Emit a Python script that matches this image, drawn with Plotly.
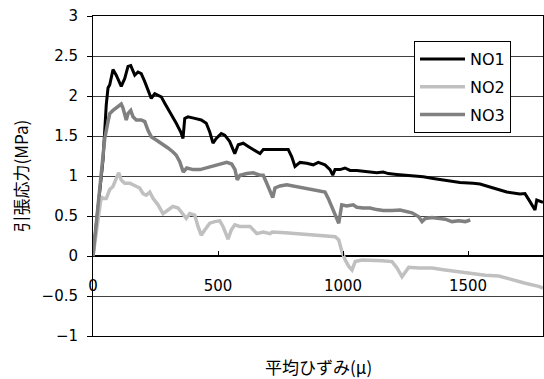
import plotly.graph_objects as go

# NO1 (black)
no1_x = [0, 20, 40, 53, 60, 67, 80, 93, 113, 127, 140, 151, 160, 167, 180, 193, 207, 220, 233, 247,
         260, 273, 287, 307, 320, 333, 351, 360, 367, 380, 407, 433, 453, 467, 480, 493, 513, 527,
         547, 567, 581, 601, 621, 641, 668, 681, 708, 733, 761, 781, 795, 808, 828, 855, 881, 901,
         928, 948, 959, 968, 988, 1008, 1028, 1055, 1081, 1108, 1135, 1161, 1181, 1215, 1255, 1281,
         1321, 1361, 1415, 1468, 1521, 1548, 1601, 1655, 1708, 1728, 1748, 1768, 1775, 1788, 1800]
no1_y = [0, 0.6, 1.2, 1.89, 2.1, 2.14, 2.33, 2.26, 2.12, 2.22, 2.37, 2.38, 2.30, 2.26, 2.30, 2.28, 2.18, 2.07, 1.97, 2.03,
         2.01, 1.99, 1.91, 1.80, 1.74, 1.66, 1.55, 1.47, 1.72, 1.74, 1.72, 1.70, 1.66, 1.55, 1.41, 1.47, 1.53, 1.51,
         1.43, 1.28, 1.39, 1.41, 1.37, 1.33, 1.28, 1.33, 1.33, 1.33, 1.33, 1.33, 1.24, 1.12, 1.17, 1.16, 1.14, 1.17,
         1.14, 1.08, 1.01, 1.08, 1.08, 1.10, 1.07, 1.07, 1.06, 1.05, 1.04, 1.05, 1.03, 1.02, 1.01, 1.00,
         0.99, 0.97, 0.94, 0.92, 0.91, 0.90, 0.85, 0.80, 0.775, 0.78, 0.68, 0.575, 0.70, 0.68, 0.67]

# NO2 (light grey)
no2_x = [0, 20, 33, 40, 53, 67, 80, 93, 103, 113, 127, 147, 167, 187, 200, 213, 227, 240, 260, 280,
         300, 320, 340, 360, 373, 387, 407, 420, 433, 447, 467, 487, 507, 520, 533, 540, 553, 567, 587,
         613, 628, 655, 681, 708, 717, 769, 823, 876, 929, 969, 983, 996, 1009, 1023, 1036, 1049, 1076,
         1116, 1156, 1196, 1216, 1236, 1249, 1263, 1303, 1356, 1409, 1463, 1516, 1569, 1623, 1676, 1729,
         1783, 1800]
no2_y = [0, 0.49, 0.74, 0.72, 0.72, 0.83, 0.87, 0.97, 1.04, 0.95, 0.91, 0.91, 0.875, 0.85, 0.78, 0.76, 0.80, 0.72, 0.64, 0.53,
         0.575, 0.62, 0.60, 0.53, 0.47, 0.53, 0.51, 0.37, 0.26, 0.325, 0.41, 0.43, 0.44, 0.37, 0.28, 0.21, 0.325, 0.39, 0.37,
         0.37, 0.37, 0.28, 0.30, 0.28, 0.30, 0.29, 0.275, 0.26, 0.25, 0.24, 0.20, 0.05, -0.05, -0.13, -0.175, -0.07, -0.05,
         -0.05, -0.06, -0.07, -0.15, -0.26, -0.20, -0.14, -0.15, -0.15, -0.175, -0.20, -0.22, -0.24, -0.25, -0.30, -0.34,
         -0.38, -0.40]

# NO3 (dark grey)
no3_x = [0, 20, 40, 47, 60, 67, 80, 100, 113, 120, 133, 140, 151, 160, 173, 193, 207, 220, 233, 253,
         273, 300, 320, 333, 347, 361, 375, 401, 428, 455, 481, 508, 535, 555, 568, 577, 588, 615, 641,
         668, 681, 695, 708, 719, 728, 748, 775, 801, 828, 855, 881, 908, 928, 941, 955, 968, 977, 983,
         995, 1015, 1041, 1055, 1081, 1108, 1135, 1161, 1196, 1228, 1276, 1303, 1316, 1329, 1356, 1383,
         1409, 1436, 1463, 1489, 1509]
no3_y = [0, 0.6, 1.2, 1.47, 1.68, 1.78, 1.82, 1.87, 1.90, 1.85, 1.70, 1.78, 1.82, 1.74, 1.70, 1.70, 1.68, 1.57, 1.49, 1.45,
         1.41, 1.35, 1.30, 1.26, 1.18, 1.05, 1.10, 1.08, 1.08, 1.10, 1.12, 1.15, 1.17, 1.15, 1.08, 0.95, 1.01, 1.03, 1.04,
         1.01, 1.01, 0.91, 0.80, 0.73, 0.85, 0.875, 0.89, 0.875, 0.86, 0.85, 0.83, 0.82, 0.80, 0.72, 0.62, 0.51, 0.45, 0.41,
         0.64, 0.625, 0.64, 0.61, 0.60, 0.60, 0.58, 0.57, 0.57, 0.575, 0.54, 0.49, 0.43, 0.47, 0.48, 0.47,
         0.46, 0.43, 0.44, 0.43, 0.45]

series_names = ["NO1", "NO2", "NO3"]
series_colors = ["#000000", "#c0c0c0", "#808080"]
series_widths = [3, 3.5, 3.5]

x_ticks = [0, 500, 1000, 1500]
y_ticks = [-1, -0.5, 0, 0.5, 1, 1.5, 2, 2.5, 3]
y_tick_text = ["\u22121", "\u22120.5", "0", "0.5", "1", "1.5", "2", "2.5", "3"]

x_title = "平均ひずみ(μ)"
y_title = "引張応力(MPa)"

num_font = "DejaVu Sans, Liberation Sans, sans-serif"
jp_font = "Noto Sans CJK JP, sans-serif"

fig = go.Figure()
for i, (xs, ys) in enumerate([(no1_x, no1_y), (no2_x, no2_y), (no3_x, no3_y)]):
    fig.add_trace(go.Scatter(
        x=xs, y=ys, mode="lines", name=series_names[i], legendgroup=series_names[i],
        line=dict(color=series_colors[i], width=series_widths[i]),
    ))
# empty trace to carry the tick axis at y=0
fig.add_trace(go.Scatter(x=[], y=[], xaxis="x2", showlegend=False, hoverinfo="skip"))

fig.update_layout(
    width=544, height=379,
    margin=dict(l=93, r=1, t=16, b=43),
    paper_bgcolor="white", plot_bgcolor="white",
    showlegend=True,
    legend=dict(
        x=(414 - 93) / 450, y=(336 - 41) / 320, xanchor="left", yanchor="top",
        bgcolor="white", bordercolor="black", borderwidth=1,
        font=dict(family=num_font, size=16, color="black"),
        traceorder="grouped", tracegroupgap=4, itemwidth=45,
    ),
    xaxis=dict(
        range=[0, 1800], showticklabels=False, ticks="", showgrid=False, zeroline=False,
        showline=True, mirror=True, linecolor="black", linewidth=1,
    ),
    xaxis2=dict(
        overlaying="x", anchor="free", position=0.25, side="bottom",
        range=[0, 1800], tickvals=x_ticks, ticktext=[str(v) for v in x_ticks],
        ticks="inside", ticklen=5, tickcolor="black", showgrid=False, zeroline=False,
        showline=False, ticklabelstandoff=19,
        tickfont=dict(family=num_font, size=15, color="black"),
    ),
    yaxis=dict(
        range=[-1, 3], tickvals=y_ticks, ticktext=y_tick_text,
        ticks="outside", ticklen=5, tickcolor="black",
        showgrid=True, gridcolor="#404040", gridwidth=1,
        zeroline=True, zerolinecolor="black", zerolinewidth=1.5,
        showline=True, mirror=True, linecolor="black", linewidth=1,
        ticklabelstandoff=6,
        tickfont=dict(family=num_font, size=15, color="black"),
    ),
    annotations=[
        dict(text=x_title, x=0.5, y=(336 - 366) / 320, xref="paper", yref="paper",
             xanchor="center", yanchor="middle", showarrow=False,
             font=dict(family=jp_font, size=17, color="black")),
        dict(text=y_title, x=(19.5 - 93) / 450, y=0.5, xref="paper", yref="paper",
             xanchor="center", yanchor="middle", showarrow=False, textangle=-90,
             font=dict(family=jp_font, size=17, color="black")),
    ],
)

fig.write_html("out.html")
